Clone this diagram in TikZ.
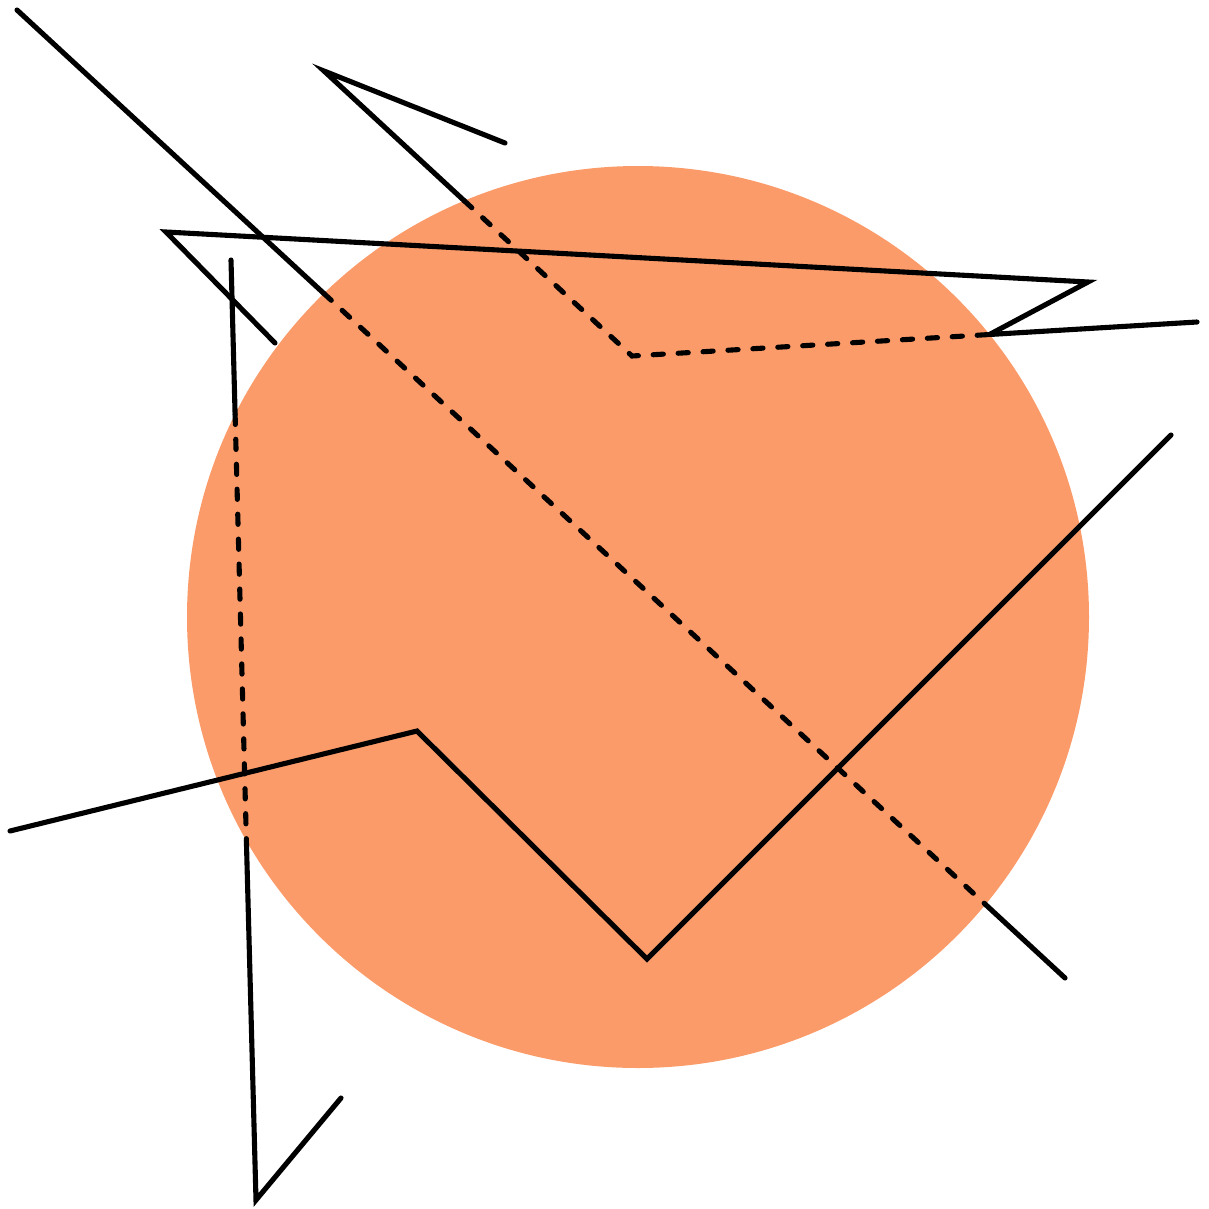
\documentclass[tikz,border=0pt]{standalone}
\usetikzlibrary{calc}
\definecolor{sunfill}{HTML}{FC9B6A}
\tikzset{
  front/.style={line width=1.45pt,line cap=round,line join=miter,black},
  back/.style={front,dash pattern=on 2.9pt off 4.2pt},
}
\begin{document}
\begin{tikzpicture}[x=0.01cm,y=-0.01cm]
  \useasboundingbox (0,0) rectangle (1208,1209);
  % the disc
  \coordinate (c) at (638,617);
  \fill[sunfill] (c) circle[radius=451];
  % long diagonal, hidden inside the disc
  \coordinate (a1) at (17,10);
  \coordinate (a2) at (323.8,293.4);
  \coordinate (a3) at (985.5,904.5);
  \coordinate (a4) at (1065,978);
  \draw[front] (a1) -- (a2);
  \draw[back] (a2) -- (a3);
  \draw[front] (a3) -- (a4);
  % upper zigzag, hidden inside the disc
  \coordinate (b1) at (505,143);
  \coordinate (b2) at (324,71);
  \coordinate (b3) at (464.3,200.8);
  \coordinate (b4) at (632,356);
  \coordinate (b5) at (989.5,334.5);
  \coordinate (b6) at (1197,322);
  \draw[front] (b1) -- (b2) -- (b3);
  \draw[back] (b3) -- (b4) -- (b5);
  \draw[front] (b5) -- (b6);
  % top crossing line, in front
  \coordinate (t1) at (275,343);
  \coordinate (t2) at (166,232);
  \coordinate (t3) at (1088,282);
  \draw[front] (t1) -- (t2) -- (t3) -- (b5);
  % near vertical line, hidden inside the disc
  \coordinate (v1) at (231,260);
  \coordinate (v2) at (235.1,414.3);
  \coordinate (v3) at (246.4,840.8);
  \coordinate (v4) at (256,1200);
  \coordinate (v5) at (341,1098);
  \draw[front] (v1) -- (v2);
  \draw[back] (v2) -- (v3);
  \draw[front] (v3) -- (v4) -- (v5);
  % lower zigzag, in front
  \coordinate (w1) at (10,831);
  \coordinate (w2) at (417,731);
  \coordinate (w3) at (647,959);
  \coordinate (w4) at (1171,435);
  \draw[front] (w1) -- (w2) -- (w3) -- (w4);
\end{tikzpicture}
\end{document}
